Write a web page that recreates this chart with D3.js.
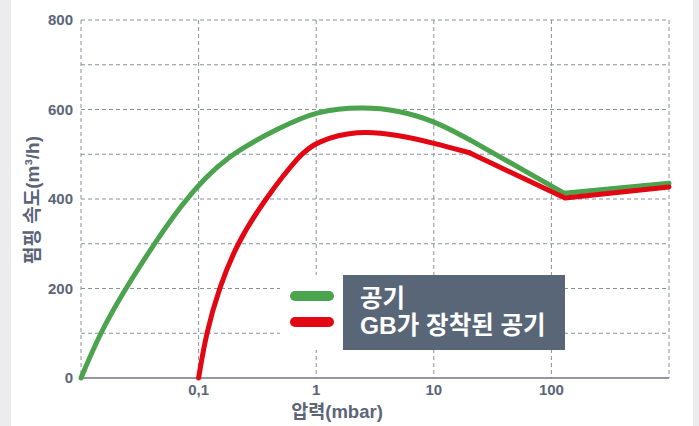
<!DOCTYPE html>
<html>
<head>
<meta charset="utf-8">
<script src="https://cdn.jsdelivr.net/npm/d3@7"></script>
<style>
  body { margin: 0; background: #fff; }
  svg { display: block; }
  text { font-family: "Liberation Sans", "Noto Sans CJK KR", sans-serif; font-weight: bold; }
</style>
</head>
<body>
<svg></svg>
<script>
// pressure (mbar) and pumping speed (m3/h)
const airPressure = [0.01, 0.0145, 0.0237, 0.0741, 0.179, 0.5, 1, 2.5, 5, 10, 20.3, 128, 1000];
const airSpeed    = [0,    100,    200,    400,    500,   560, 597, 606, 598, 575, 532, 413, 435];

const gbPressure = [0.1, 0.116, 0.149, 0.211, 0.367, 0.728, 1, 2.22, 5, 10, 20.3, 130.6, 1000];
const gbSpeed    = [0,   100,   200,   300,   400,   500,   528, 554, 543, 525, 503, 402, 427];

const xTicks = [0.1, 1, 10, 100];
const xTickLabels = ["0,1", "1", "10", "100"];
const yTicks = [0, 200, 400, 600, 800];
const yGrid = [100, 200, 300, 400, 500, 600, 700, 800];

const seriesNames = ["공기", "GB가 장착된 공기"];
const seriesColors = ["#4ba34e", "#e30613"];

const W = 699, H = 426;
const margin = {top: 20, right: 30, bottom: 48, left: 81};
const width = W - margin.left - margin.right,
      height = H - margin.top - margin.bottom;

const svgRoot = d3.select("svg").attr("width", W).attr("height", H);

// grey strips at the page edges
svgRoot.append("rect").attr("x", 0).attr("y", 0).attr("width", 11).attr("height", H).attr("fill", "#ececee");
svgRoot.append("rect").attr("x", 693).attr("y", 0).attr("width", 6).attr("height", H).attr("fill", "#ececee");

const svg = svgRoot.append("g").attr("transform", `translate(${margin.left},${margin.top})`);

const x = d3.scaleLog().domain([0.01, 1000]).range([0, width]);
const y = d3.scaleLinear().domain([0, 800]).range([height, 0]);

const gridColor = "#8a909c";
const textColor = "#5b6577";

// grid
svg.append("g").selectAll("line")
    .data(yGrid)
    .enter().append("line")
    .attr("x1", 0).attr("x2", width)
    .attr("y1", d => y(d)).attr("y2", d => y(d))
    .attr("stroke", gridColor).attr("stroke-width", 1)
    .attr("stroke-dasharray", "4,3");

svg.append("g").selectAll("line")
    .data([0.01].concat(xTicks, [1000]))
    .enter().append("line")
    .attr("x1", d => x(d)).attr("x2", d => x(d))
    .attr("y1", 0).attr("y2", height)
    .attr("stroke", gridColor).attr("stroke-width", 1)
    .attr("stroke-dasharray", "4,3");

// bottom axis line
svg.append("line")
    .attr("x1", 0).attr("x2", width)
    .attr("y1", height).attr("y2", height)
    .attr("stroke", "#6e7686").attr("stroke-width", 1.5);

// tick labels
svg.append("g").selectAll("text")
    .data(yTicks)
    .enter().append("text")
    .attr("x", -8)
    .attr("y", d => y(d))
    .attr("dy", "0.35em")
    .attr("text-anchor", "end")
    .attr("fill", textColor)
    .style("font-size", "15px")
    .text(d => d);

svg.append("g").selectAll("text")
    .data(xTicks)
    .enter().append("text")
    .attr("x", d => x(d))
    .attr("y", height + 17)
    .attr("text-anchor", "middle")
    .attr("fill", textColor)
    .style("font-size", "15px")
    .text((d, i) => xTickLabels[i]);

// axis titles
svg.append("text")
    .attr("x", 256)
    .attr("y", height + 40)
    .attr("text-anchor", "middle")
    .attr("fill", textColor)
    .style("font-size", "18.5px")
    .text("압력(mbar)");

svg.append("text")
    .attr("transform", "rotate(-90)")
    .attr("x", -(200 - margin.top))
    .attr("y", -42)
    .attr("text-anchor", "middle")
    .attr("fill", textColor)
    .style("font-size", "19px")
    .text("펌핑 속도(m³/h)");

// curves: smooth part, then straight segments at high pressure
function drawSeries(px, py, color) {
    const pts = px.map((d, i) => [x(d), y(py[i])]);
    const n = pts.length;
    svg.append("path")
        .attr("d", d3.line().curve(d3.curveBasis)(pts.slice(0, n - 2)))
        .attr("fill", "none").attr("stroke", color).attr("stroke-width", 5)
        .attr("stroke-linecap", "round");
    svg.append("path")
        .attr("d", d3.line()(pts.slice(n - 3)))
        .attr("fill", "none").attr("stroke", color).attr("stroke-width", 5)
        .attr("stroke-linecap", "round").attr("stroke-linejoin", "round");
}
drawSeries(airPressure, airSpeed, seriesColors[0]);
drawSeries(gbPressure, gbSpeed, seriesColors[1]);

// legend
const lg = svgRoot.append("g");
lg.append("rect").attr("x", 280).attr("y", 275).attr("width", 64).attr("height", 75).attr("fill", "#fff");
lg.append("rect").attr("x", 343).attr("y", 275).attr("width", 222).attr("height", 75).attr("fill", "#586678");
lg.selectAll(".key")
    .data(seriesNames)
    .enter().append("line")
    .attr("x1", 295).attr("x2", 329)
    .attr("y1", (d, i) => 296 + i * 26).attr("y2", (d, i) => 296 + i * 26)
    .attr("stroke", (d, i) => seriesColors[i])
    .attr("stroke-width", 10)
    .attr("stroke-linecap", "round");
lg.selectAll(".lab")
    .data(seriesNames)
    .enter().append("text")
    .attr("x", 360)
    .attr("y", (d, i) => 307 + i * 27)
    .attr("fill", "#fff")
    .style("font-size", "24.5px")
    .text(d => d);
</script>
</body>
</html>
